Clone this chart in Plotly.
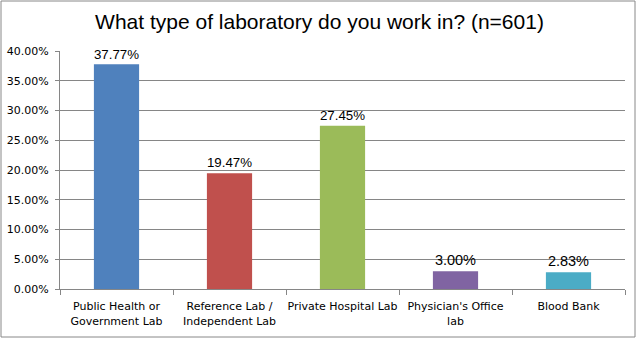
import plotly.graph_objects as go

# Survey results: type of laboratory (n=601)
categories = [
    "Public Health or<br>Government Lab",
    "Reference Lab /<br>Independent Lab",
    "Private Hospital Lab",
    "Physician's Office<br>lab",
    "Blood Bank",
]
percent_values = [37.77, 19.47, 27.45, 3.00, 2.83]
bar_colors = ["#4F81BD", "#C0504D", "#9BBB59", "#8064A2", "#4BACC6"]
y_tick_values = [0, 5, 10, 15, 20, 25, 30, 35, 40]

W, H = 639, 340
L, R, T, B = 60, 14, 51, 51

fig = go.Figure(
    go.Bar(
        x=categories,
        y=percent_values,
        marker=dict(color=bar_colors, line=dict(width=0)),
        text=[f"{v:.2f}%" for v in percent_values],
        textposition="outside",
        textfont=dict(family="Liberation Sans, Arial, sans-serif", size=14.5, color="#000000"),
        cliponaxis=False,
        width=0.4,
    )
)

fig.update_layout(
    width=W,
    height=H,
    margin=dict(l=L, r=R, t=T, b=B, pad=0),
    paper_bgcolor="white",
    plot_bgcolor="white",
    showlegend=False,
    title=dict(
        text="What type of laboratory do you work in? (n=601)",
        font=dict(family="Liberation Sans, Arial, sans-serif", size=21, color="#000000"),
        x=0.5,
        xanchor="center",
        y=1 - 22 / H,
        yanchor="middle",
    ),
    xaxis=dict(
        type="category",
        automargin=False,
        tickangle=0,
        showgrid=False,
        showline=True,
        linecolor="#868686",
        linewidth=1,
        ticks="outside",
        tickson="boundaries",
        ticklen=5,
        tickcolor="#868686",
        ticklabelstandoff=7,
        tickfont=dict(family="DejaVu Sans, Verdana, sans-serif", size=11, color="#000000"),
    ),
    yaxis=dict(
        range=[0, 40],
        automargin=False,
        tickvals=y_tick_values,
        ticktext=[f"{v:.2f}%" for v in y_tick_values],
        showgrid=True,
        gridcolor="#868686",
        gridwidth=1,
        zeroline=False,
        showline=True,
        linecolor="#868686",
        linewidth=1,
        ticks="outside",
        ticklen=4,
        tickcolor="#868686",
        ticklabelstandoff=4,
        tickfont=dict(family="DejaVu Sans, Verdana, sans-serif", size=11, color="#000000"),
    ),
    bargap=0.6,
)

# Outer chart border
pw, ph = W - L - R, H - T - B
fig.add_shape(
    type="rect",
    xref="paper",
    yref="paper",
    x0=(1 - L) / pw,
    x1=(635 - L) / pw,
    y0=(H - B - 337) / ph,
    y1=(H - B - 1) / ph,
    line=dict(color="#888888", width=1),
    fillcolor="rgba(0,0,0,0)",
    layer="below",
)

fig.write_html("out.html")
